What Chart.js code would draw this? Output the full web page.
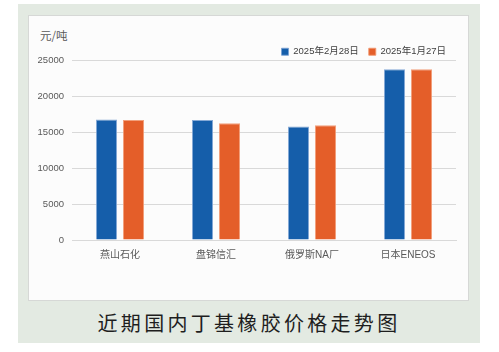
<!DOCTYPE html>
<html>
<head>
<meta charset="utf-8">
<script src="https://cdn.jsdelivr.net/npm/chart.js@4"></script>
<style>
  html, body { margin: 0; padding: 0; background: #ffffff; width: 499px; height: 352px; overflow: hidden; }
  #panel { position: absolute; left: 18px; top: 4px; width: 462px; height: 339px; background: #e3eae2; }
  #card { position: absolute; left: 28px; top: 15px; width: 439px; height: 284px; background: #fcfcfc; border: 1px solid #d6d8d6; }
  #cv { position: absolute; left: 28px; top: 15px; }
  #unit { position: absolute; left: 40px; top: 27px; font: 11.5px "Noto Sans CJK SC", "Liberation Sans", sans-serif; color: #595959; }
  #title { position: absolute; left: 18px; width: 462px; top: 308px; text-align: center; font: 20px "Noto Sans CJK SC", sans-serif; letter-spacing: 3.3px; color: #1e1e1e; }
</style>
</head>
<body>
<div id="panel"></div>
<div id="card"></div>
<div id="unit">元/吨</div>
<canvas id="cv" width="441" height="286"></canvas>
<div id="title">近期国内丁基橡胶价格走势图</div>
<script>
const categories = ["燕山石化", "盘锦信汇", "俄罗斯NA厂", "日本ENEOS"];
const seriesNames = ["2025年2月28日", "2025年1月27日"];
const feb28 = [16750, 16650, 15750, 23700];
const jan27 = [16650, 16200, 15950, 23700];
const yTicks = [0, 5000, 10000, 15000, 20000, 25000];

const fontFamily = '"Liberation Sans", "Noto Sans CJK SC", sans-serif';

const legendFit = {
  id: 'legendFit',
  beforeInit(chart) {
    const orig = chart.legend.fit;
    chart.legend.fit = function () {
      orig.bind(chart.legend)();
      this.height = 23;
    };
  }
};

new Chart(document.getElementById('cv'), {
  type: 'bar',
  data: {
    labels: categories,
    datasets: [
      { label: seriesNames[0], data: feb28, backgroundColor: '#155eaa', borderColor: 'rgba(120,160,210,0.9)', borderWidth: 1,
        categoryPercentage: 0.5625, barPercentage: 0.78 },
      { label: seriesNames[1], data: jan27, backgroundColor: '#e45e29', borderColor: 'rgba(240,150,110,0.9)', borderWidth: 1,
        categoryPercentage: 0.5625, barPercentage: 0.78 }
    ]
  },
  options: {
    responsive: false,
    animation: false,
    devicePixelRatio: 1,
    layout: { padding: { top: 22, right: 13, left: 0, bottom: 0 } },
    plugins: {
      legend: {
        position: 'top',
        align: 'end',
        labels: {
          boxWidth: 7, boxHeight: 7, padding: 10,
          color: '#404040',
          font: { size: 9.5, family: fontFamily }
        }
      },
      tooltip: { enabled: false }
    },
    scales: {
      x: {
        grid: { display: false, drawTicks: false },
        border: { display: true, color: '#d9d9d9', width: 1 },
        ticks: { color: '#595959', padding: 9, font: { size: 10, family: fontFamily } },
        afterFit(scale) { scale.height = 61; }
      },
      y: {
        min: 0, max: 25000,
        afterBuildTicks(scale) { scale.ticks = yTicks.map(v => ({ value: v })); },
        grid: { color: '#d9d9d9', drawTicks: false },
        border: { display: false },
        ticks: { color: '#595959', padding: 8, font: { size: 9.5, family: fontFamily },
          callback: (v) => String(v) },
        afterFit(scale) { scale.width = 44; }
      }
    }
  },
  plugins: [legendFit]
});
</script>
</body>
</html>
